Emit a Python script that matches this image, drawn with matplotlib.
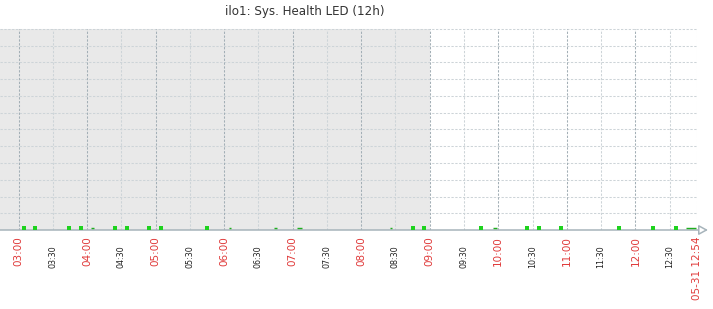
import matplotlib
matplotlib.use("Agg")
import matplotlib.pyplot as plt

# --- data (times as HH:MM, 2024-05-31) ---
title = "ilo1: Sys. Health LED (12h)"
end_label = "05-31 12:54"
hour_ticks = ["03:00", "04:00", "05:00", "06:00", "07:00", "08:00",
              "09:00", "10:00", "11:00", "12:00"]
half_ticks = ["03:30", "04:30", "05:30", "06:30", "07:30", "08:30",
              "09:30", "10:30", "11:30", "12:30"]
work_start = "09:00"
# sample points drawn as small squares
point_times = ["03:04:36", "03:14:18", "03:44:00", "03:54:30", "04:24:18",
               "04:34:48", "04:54:06", "05:04:36", "05:44:54", "08:45:12",
               "08:54:54", "09:44:48", "10:25:00", "10:35:36", "10:54:48",
               "11:45:36", "12:15:24", "12:35:30"]
# short flat segments (centre, length in minutes)
dash_times = ["04:05:00", "06:05:24", "06:45:18", "07:06:18", "08:25:42",
              "09:56:48", "12:49:00"]
dash_lengths = [2.6, 1.8, 2.6, 4.4, 1.8, 3.5, 8.8]


def minutes(s):
    parts = [int(p) for p in s.split(":")]
    while len(parts) < 3:
        parts.append(0)
    return parts[0] * 60 + parts[1] + parts[2] / 60.0


W, H = 713, 309
fig = plt.figure(figsize=(W / 100, H / 100), dpi=100)
ax_left, ax_right, ax_top, ax_bot = 0, 697, 29, 230
ax = fig.add_axes([ax_left / W, (H - ax_bot) / H,
                   (ax_right - ax_left) / W, (ax_bot - ax_top) / H])

t_end = minutes("12:54")
px_per_min = 651 / 570.0
t_start = t_end - (ax_right - ax_left) / px_per_min
ax.set_xlim(t_start, t_end)
ax.set_ylim(0, 12)

# non-working time shading
ax.axvspan(t_start, minutes(work_start), color="#e9e9e9", lw=0, zorder=0)

dash = (0, (2.2, 1.5))
for y in range(1, 13):
    ax.axhline(y, color="#cdd4d8", lw=0.75, ls=dash, zorder=1, clip_on=False)
for t in half_ticks:
    ax.axvline(minutes(t), color="#cdd4d8", lw=0.75, ls=dash, zorder=1)
ax.axvline(t_end, color="#cdd4d8", lw=0.75, ls=dash, zorder=1)
for t in hour_ticks:
    ax.axvline(minutes(t), color="#a3afb6", lw=0.75, ls=dash, zorder=1)

# data marks
px = 72 / 100.0
ax.plot([minutes(t) for t in point_times], [1.8 / 16.75] * len(point_times),
        ls="none", marker="s", ms=3.6 * px, mew=0, color="#1ed21e",
        zorder=6, clip_on=False)
for t, L in zip(dash_times, dash_lengths):
    c = minutes(t)
    ax.plot([c - L / 2, c + L / 2], [1.6 / 16.75] * 2, color="#1fae1f",
            lw=1.4 * px, solid_capstyle="butt", zorder=6, clip_on=False)

# x axis line with open arrow
ax.annotate("", xy=(1 + 11 / 697, 0), xytext=(0, 0),
            xycoords="axes fraction", textcoords="axes fraction",
            arrowprops=dict(arrowstyle="-|>,head_length=0.55,head_width=0.3",
                            color="#a7b4bb", fc="white", lw=1.1,
                            shrinkA=0, shrinkB=0), zorder=5)

for s in ax.spines.values():
    s.set_visible(False)
ax.set_xticks([])
ax.set_yticks([])

# tick labels
trans = ax.get_xaxis_transform()
axh = ax_bot - ax_top
for t in hour_ticks:
    ax.text(minutes(t), -6 / axh, t, rotation=90, ha="center", va="top",
            fontsize=7.5, color="#e03a3a", transform=trans)
for t in half_ticks:
    ax.text(minutes(t), -15 / axh, t, rotation=90, ha="center", va="top",
            fontsize=5.8, color="#222222", transform=trans)
ax.text(t_end, -6 / axh, end_label, rotation=90, ha="center", va="top",
        fontsize=7.5, color="#e03a3a", transform=trans)

fig.text(305 / W, 1 - 12 / H, title, ha="center", va="center",
         fontsize=8.6, color="#333333")

fig.savefig("out.png", dpi=100)
